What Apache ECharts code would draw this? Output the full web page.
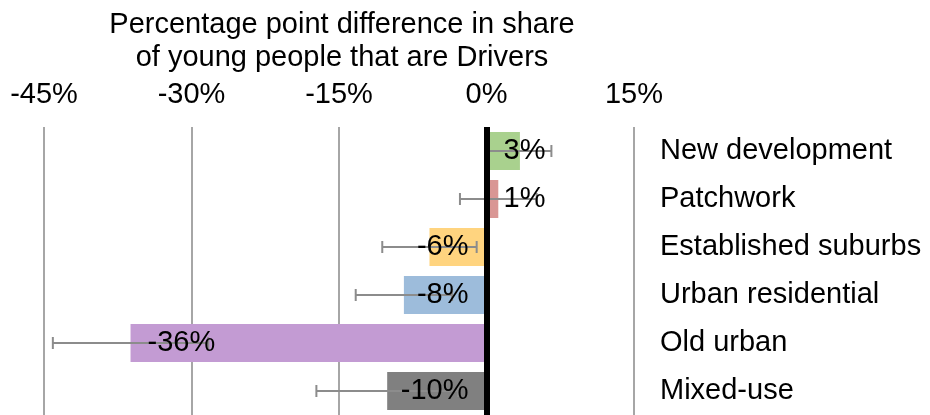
<!DOCTYPE html>
<html>
<head>
<meta charset="utf-8">
<script src="https://cdn.jsdelivr.net/npm/echarts@6/dist/echarts.min.js"></script>
<style>
  html, body { margin: 0; padding: 0; background: #fff; }
  #chart { width: 930px; height: 415px; }
</style>
</head>
<body>
<div id="chart"></div>
<script>
// Neighbourhood types, top to bottom
const categories = ['New development', 'Patchwork', 'Established suburbs', 'Urban residential', 'Old urban', 'Mixed-use'];
// Percentage point difference in share of young people that are drivers
const differences = [3.4, 1.2, -5.8, -8.4, -36.2, -10.1];
// Half-width of each error bar, in percentage points
const errorMargins = [3.2, 3.9, 4.8, 4.9, 7.9, 7.2];
// Fill colour per neighbourhood type
const barColors = ['#A9D18E', '#D99694', '#FFD47F', '#9DBCDB', '#C39BD3', '#808080'];
// Value axis ticks
const tickValues = [-45, -30, -15, 0, 15];

const FONT = '"Liberation Sans", Arial, sans-serif';
const chart = echarts.init(document.getElementById('chart'), null, { renderer: 'canvas' });

const barData = differences.map((v, i) => ({ value: v, itemStyle: { color: barColors[i] } }));

// Labels sit at the zero side of each bar, except on long negative bars where they sit at the bar's end
const labelData = differences.map(v => {
  let position, distance;
  if (v >= 0) { position = 'insideLeft'; distance = 17; }
  else if (v < -20) { position = 'insideLeft'; distance = 17; }
  else { position = 'insideRight'; distance = 18; }
  return { value: v, label: { position, distance } };
});

const errorData = differences.map((v, i) => [i, v - errorMargins[i], v + errorMargins[i]]);

chart.setOption({
  animation: false,
  backgroundColor: '#fff',
  title: {
    text: 'Percentage point difference in share\nof young people that are Drivers',
    left: 337,
    top: 3,
    textAlign: 'center',
    textStyle: { fontFamily: FONT, fontSize: 29, fontWeight: 'normal', color: '#000', lineHeight: 33 }
  },
  grid: { left: 44, right: 296, top: 127, bottom: 0, containLabel: false },
  xAxis: {
    type: 'value',
    position: 'top',
    min: tickValues[0],
    max: tickValues[tickValues.length - 1],
    interval: 15,
    axisLine: { show: false },
    axisTick: { show: false },
    axisLabel: {
      margin: 18,
      fontFamily: FONT, fontSize: 29, color: '#000',
      formatter: v => v + '%'
    },
    splitLine: { show: true, lineStyle: { color: '#A6A6A6', width: 2 } }
  },
  yAxis: {
    type: 'category',
    data: categories,
    position: 'right',
    inverse: true,
    axisLine: { show: false },
    axisTick: { show: false },
    splitLine: { show: false },
    axisLabel: { margin: 26, align: 'left', padding: [4, 0, 0, 0], fontFamily: FONT, fontSize: 29, color: '#000' }
  },
  series: [
    {
      name: 'bars',
      type: 'bar',
      z: 2,
      barWidth: 38,
      data: barData,
      label: { show: false }
    },
    {
      name: 'errors',
      type: 'custom',
      z: 3,
      data: errorData,
      encode: { x: [1, 2], y: 0 },
      renderItem: (params, api) => {
        const cat = api.value(0);
        const a = api.coord([api.value(1), cat]);
        const b = api.coord([api.value(2), cat]);
        const cap = 6;
        const style = { stroke: '#8C8C8C', lineWidth: 2 };
        return {
          type: 'group',
          children: [
            { type: 'line', shape: { x1: a[0], y1: a[1], x2: b[0], y2: b[1] }, style },
            { type: 'line', shape: { x1: a[0], y1: a[1] - cap, x2: a[0], y2: a[1] + cap }, style },
            { type: 'line', shape: { x1: b[0], y1: b[1] - cap, x2: b[0], y2: b[1] + cap }, style }
          ]
        };
      }
    },
    {
      name: 'labels',
      type: 'bar',
      z: 4,
      barWidth: 38,
      barGap: '-100%',
      itemStyle: { color: 'rgba(0,0,0,0)' },
      data: labelData,
      label: {
        show: true,
        padding: [3, 0, 0, 0],
        fontFamily: FONT, fontSize: 29, color: '#000',
        formatter: p => Math.round(p.value) + '%'
      },
      markLine: {
        silent: true,
        symbol: 'none',
        label: { show: false },
        lineStyle: { color: '#000', width: 6, type: 'solid' },
        data: [{ xAxis: 0 }]
      }
    }
  ]
});
</script>
</body>
</html>
